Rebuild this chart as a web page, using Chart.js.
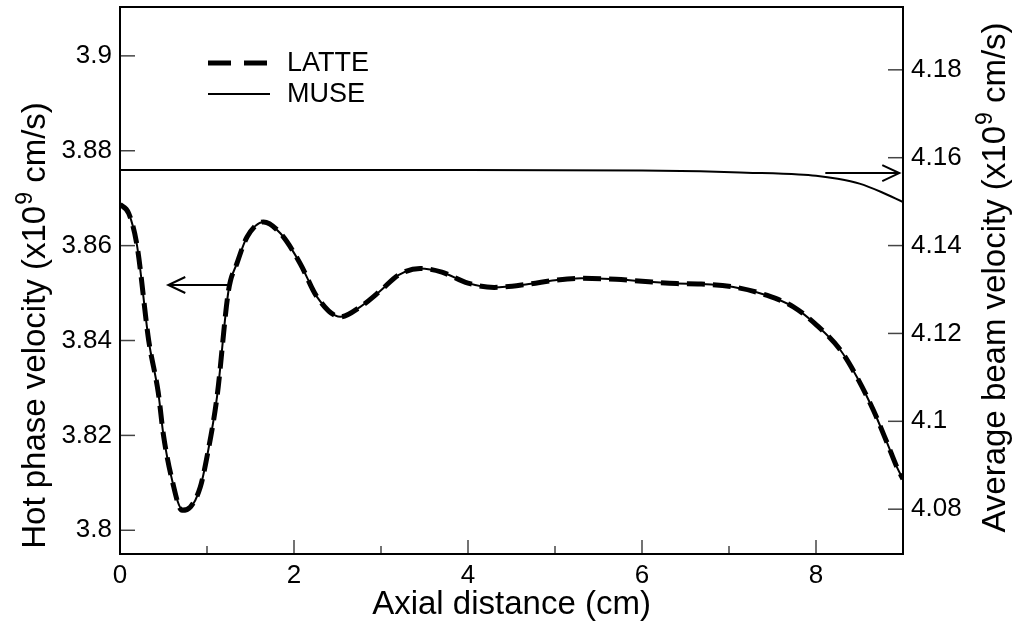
<!DOCTYPE html>
<html>
<head>
<meta charset="utf-8">
<script src="https://cdn.jsdelivr.net/npm/chart.js@4/dist/chart.umd.min.js"></script>
<style>
  html, body { margin: 0; padding: 0; background: #fff; }
  canvas { display: block; }
</style>
</head>
<body>
<canvas id="grafico" width="1023" height="627"></canvas>
<script>
// valores
const X_QUENTE = [0, 0.1, 0.195, 0.33, 0.44, 0.5, 0.6, 0.713, 0.808, 0.923, 1.0, 1.115, 1.248, 1.345, 1.46, 1.65, 1.843, 2.072, 2.264, 2.532, 2.762, 3.0, 3.2, 3.45, 3.7, 4.0, 4.3, 4.7, 5.0, 5.3, 5.7, 6.0, 6.4, 6.67, 7.05, 7.44, 7.74, 8.01, 8.28, 8.47, 8.66, 8.82, 8.93, 9.0];
const LATTE_QUENTE = [3.8687, 3.8668, 3.8601, 3.840, 3.829, 3.820, 3.8105, 3.8042, 3.8049, 3.8091, 3.8155, 3.8281, 3.8506, 3.8563, 3.8618, 3.865, 3.8626, 3.8562, 3.8492, 3.845, 3.8471, 3.8506, 3.8538, 3.8552, 3.8544, 3.8521, 3.8512, 3.8519, 3.8527, 3.8531, 3.8529, 3.8525, 3.852, 3.8519, 3.8513, 3.8495, 3.8471, 3.8432, 3.838, 3.8323, 3.8253, 3.8183, 3.8133, 3.8108];
const MUSE_QUENTE = [3.8687, 3.8668, 3.8601, 3.840, 3.829, 3.820, 3.8105, 3.8045, 3.8049, 3.8091, 3.8155, 3.8281, 3.8506, 3.8563, 3.8618, 3.865, 3.8626, 3.8562, 3.8492, 3.845, 3.8471, 3.8506, 3.8538, 3.8552, 3.8544, 3.8521, 3.8512, 3.8519, 3.8527, 3.8531, 3.8529, 3.8525, 3.852, 3.8519, 3.8513, 3.8495, 3.8471, 3.8432, 3.838, 3.8323, 3.8253, 3.8183, 3.8133, 3.8108];

const X_FEIXE = [0, 2, 4, 6, 6.67, 7.2, 7.8, 8.0, 8.25, 8.5, 8.75, 9.0];
const MUSE_FEIXE = [4.1572, 4.1572, 4.1572, 4.1571, 4.1569, 4.1566, 4.1562, 4.1559, 4.1552, 4.1541, 4.1522, 4.1499];

const TICKS_X = [0, 2, 4, 6, 8];
const TICKS_X_MENORES = [1, 3, 5, 7];
const TICKS_Y = [3.8, 3.82, 3.84, 3.86, 3.88, 3.9];
const TICKS_Y2 = [4.08, 4.1, 4.12, 4.14, 4.16, 4.18];

const FONTE = "'Liberation Sans', Arial, Helvetica, sans-serif";

function pontos(xs, ys) {
    return xs.map((x, i) => ({ x, y: ys[i] }));
}

function rotuloNumero(valor) {
    return String(Number(valor.toFixed(2)));
}

function tracar(ctx, x1, y1, x2, y2) {
    ctx.beginPath();
    ctx.moveTo(x1, y1);
    ctx.lineTo(x2, y2);
    ctx.stroke();
}

function textoComExpoente(ctx, x, y, antes, expoente, depois, rotacao) {
    const fonteBase = `33px ${FONTE}`;
    const fonteExp = `23px ${FONTE}`;
    ctx.save();
    ctx.translate(x, y);
    ctx.rotate(rotacao);
    ctx.font = fonteBase;
    const l1 = ctx.measureText(antes).width;
    const l3 = ctx.measureText(depois).width;
    ctx.font = fonteExp;
    const l2 = ctx.measureText(expoente).width;
    let inicio = -(l1 + l2 + l3) / 2;
    ctx.fillStyle = '#000';
    ctx.textBaseline = 'alphabetic';
    ctx.textAlign = 'left';
    ctx.font = fonteBase;
    ctx.fillText(antes, inicio, 0);
    ctx.font = fonteExp;
    ctx.fillText(expoente, inicio + l1 + 1, -13);
    ctx.font = fonteBase;
    ctx.fillText(depois, inicio + l1 + l2 + 1, 0);
    ctx.restore();
}

function seta(ctx, x1, y, x2) {
    const dir = Math.sign(x2 - x1);
    tracar(ctx, x1, y, x2, y);
    ctx.beginPath();
    ctx.moveTo(x2 - dir * 17, y - 8);
    ctx.lineTo(x2, y);
    ctx.lineTo(x2 - dir * 17, y + 8);
    ctx.stroke();
}

const decoracao = {
    id: 'decoracao',
    afterDatasetsDraw(chart) {
        const { ctx, chartArea: a, scales } = chart;
        ctx.save();

        // marcas dos eixos, para dentro
        ctx.strokeStyle = '#444';
        ctx.lineWidth = 1.5;
        TICKS_Y.forEach(v => {
            const py = scales.y.getPixelForValue(v);
            tracar(ctx, a.left, py, a.left + 15, py);
        });
        TICKS_Y2.forEach(v => {
            const py = scales.y2.getPixelForValue(v);
            tracar(ctx, a.right - 15, py, a.right, py);
        });
        TICKS_X.forEach(v => {
            const px = scales.x.getPixelForValue(v);
            tracar(ctx, px, a.bottom, px, a.bottom - 14);
        });
        TICKS_X_MENORES.forEach(v => {
            const px = scales.x.getPixelForValue(v);
            tracar(ctx, px, a.bottom, px, a.bottom - 8);
        });

        // moldura
        ctx.strokeStyle = '#000';
        ctx.lineWidth = 2;
        ctx.strokeRect(a.left, a.top, a.width, a.height);

        // setas
        ctx.lineWidth = 2;
        const ySetaEsq = scales.y.getPixelForValue(3.8517);
        seta(ctx, scales.x.getPixelForValue(1.245), ySetaEsq, scales.x.getPixelForValue(0.555));
        const ySetaDir = scales.y2.getPixelForValue(4.1565);
        seta(ctx, scales.x.getPixelForValue(8.107), ySetaDir, scales.x.getPixelForValue(8.957));

        // legenda
        ctx.strokeStyle = '#000';
        ctx.lineWidth = 5;
        ctx.setLineDash([23, 13]);
        tracar(ctx, 208, 63, 270, 63);
        ctx.setLineDash([]);
        ctx.lineWidth = 2;
        tracar(ctx, 208, 94, 270, 94);
        ctx.fillStyle = '#000';
        ctx.font = `27px ${FONTE}`;
        ctx.textAlign = 'left';
        ctx.textBaseline = 'middle';
        ctx.fillText('LATTE', 287, 64);
        ctx.fillText('MUSE', 287, 95);

        // títulos
        ctx.font = `33px ${FONTE}`;
        ctx.textAlign = 'center';
        ctx.textBaseline = 'alphabetic';
        ctx.fillText('Axial distance (cm)', (a.left + a.right) / 2, 614);
        textoComExpoente(ctx, 45, 326, 'Hot phase velocity (x10', '9', ' cm/s)', -Math.PI / 2);
        textoComExpoente(ctx, 1005, 278, 'Average beam velocity (x10', '9', ' cm/s)', -Math.PI / 2);

        ctx.restore();
    }
};

const estiloTicks = { color: '#000', font: { family: FONTE, size: 26 }, padding: 8 };

function fixarLargura(largura) {
    return escala => {
        escala.width = largura;
        escala.paddingTop = 0;
        escala.paddingBottom = 0;
    };
}

new Chart(document.getElementById('grafico'), {
    type: 'line',
    data: {
        datasets: [
            {
                label: 'LATTE',
                data: pontos(X_QUENTE, LATTE_QUENTE),
                yAxisID: 'y',
                borderColor: '#000',
                borderWidth: 5,
                borderDash: [18, 8],
                pointRadius: 0,
                cubicInterpolationMode: 'monotone'
            },
            {
                label: 'MUSE',
                data: pontos(X_QUENTE, MUSE_QUENTE),
                yAxisID: 'y',
                borderColor: '#000',
                borderWidth: 2,
                pointRadius: 0,
                cubicInterpolationMode: 'monotone'
            },
            {
                label: 'MUSE feixe',
                data: pontos(X_FEIXE, MUSE_FEIXE),
                yAxisID: 'y2',
                borderColor: '#000',
                borderWidth: 2,
                pointRadius: 0,
                cubicInterpolationMode: 'monotone'
            }
        ]
    },
    options: {
        responsive: false,
        animation: false,
        layout: { padding: { top: 7, left: 0, right: 0, bottom: 0 } },
        plugins: { legend: { display: false }, tooltip: { enabled: false } },
        scales: {
            x: {
                type: 'linear',
                min: 0,
                max: 9,
                border: { display: false },
                grid: { display: false, drawTicks: false },
                ticks: { ...estiloTicks, padding: 6, maxRotation: 0, callback: v => rotuloNumero(v) },
                afterBuildTicks: escala => { escala.ticks = TICKS_X.map(v => ({ value: v })); },
                afterFit: escala => {
                    escala.height = 73;
                    escala.paddingLeft = 0;
                    escala.paddingRight = 0;
                }
            },
            y: {
                type: 'linear',
                position: 'left',
                min: 3.795,
                max: 3.9103,
                border: { display: false },
                grid: { display: false, drawTicks: false },
                ticks: { ...estiloTicks, callback: v => rotuloNumero(v) },
                afterBuildTicks: escala => { escala.ticks = TICKS_Y.map(v => ({ value: v })); },
                afterFit: fixarLargura(120)
            },
            y2: {
                type: 'linear',
                position: 'right',
                min: 4.0698,
                max: 4.1943,
                border: { display: false },
                grid: { display: false, drawTicks: false },
                ticks: { ...estiloTicks, callback: v => rotuloNumero(v) },
                afterBuildTicks: escala => { escala.ticks = TICKS_Y2.map(v => ({ value: v })); },
                afterFit: fixarLargura(120)
            }
        }
    },
    plugins: [decoracao]
});
</script>
</body>
</html>
